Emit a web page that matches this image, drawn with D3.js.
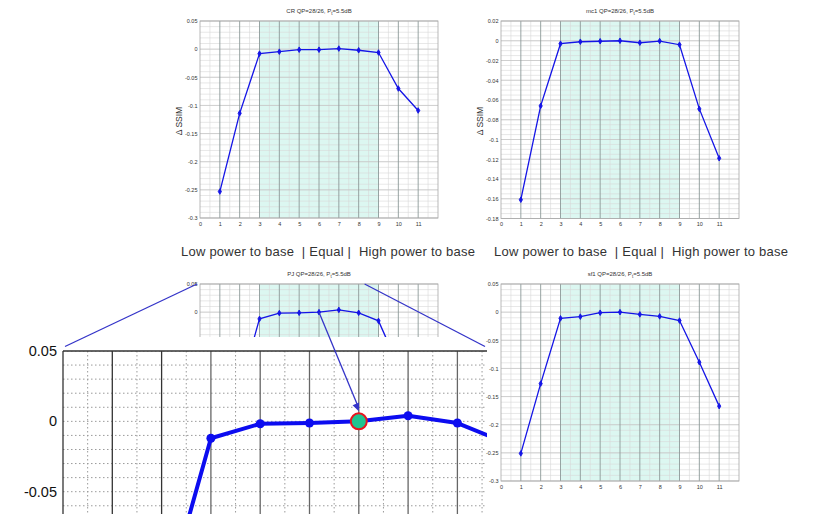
<!DOCTYPE html>
<html>
<head>
<meta charset="utf-8">
<script src="https://cdn.jsdelivr.net/npm/d3@7"></script>
<style>
  html, body { margin: 0; padding: 0; background: #fff; }
  svg { display: block; font-family: "Liberation Sans", Arial, sans-serif; }
</style>
</head>
<body>
<svg id="chart" width="813" height="514"></svg>
<script>
// ---------------- data ----------------
const categories = [1, 2, 3, 4, 5, 6, 7, 8, 9, 10, 11];
const xTickLabels = ["0","1","2","3","4","5","6","7","8","9","10","11"];
const crValues  = [-0.253, -0.114, -0.008, -0.0045, -0.001, -0.001, 0.001, -0.002, -0.006, -0.070, -0.109];
const mc1Values = [-0.161, -0.066, -0.003, -0.001, -0.0005, 0.0, -0.002, -0.0003, -0.004, -0.069, -0.119];
const pjValues  = [-0.255, -0.137, -0.012, -0.0017, -0.0012, 0.0, 0.004, -0.0012, -0.0155, -0.095, -0.16];
const sf1Values = [-0.251, -0.127, -0.011, -0.008, -0.001, 0.0, -0.004, -0.0075, -0.015, -0.089, -0.167];
const ticks005 = [0.05, 0, -0.05, -0.1, -0.15, -0.2, -0.25, -0.3];
const ticks002 = [0.02, 0, -0.02, -0.04, -0.06, -0.08, -0.1, -0.12, -0.14, -0.16, -0.18];
const insetTicks = [0.05, 0, -0.05];
const equalRange = [3, 9];
const highlightCategory = 6;
const regionCaption = "Low power to base  | Equal |  High power to base";
const titles = { cr: "CR", mc1: "mc1", pj: "PJ", sf1: "sf1" };

const svg = d3.select("#chart");
const fmt = v => (Math.abs(v) < 1e-9 ? "0" : String(+v.toFixed(3)));

function drawPanel(opt) {
  const g = svg.append("g");
  const x = d3.scaleLinear().domain([0, 12]).range([opt.left, opt.left + opt.width]);
  const y = d3.scaleLinear().domain(opt.domain).range([opt.top + opt.height, opt.top]);
  const top = opt.top, bottom = opt.top + opt.height;
  g.append("rect").attr("x", x(equalRange[0])).attr("y", top)
    .attr("width", x(equalRange[1]) - x(equalRange[0])).attr("height", opt.height)
    .attr("fill", "#dcf7f1");
  const [d0, d1] = opt.domain;
  const nMinor = Math.round((d1 - d0) / opt.minor);
  for (let i = 0; i <= nMinor; i++) {
    const v = d0 + i * opt.minor;
    g.append("line").attr("x1", opt.left).attr("x2", opt.left + opt.width)
      .attr("y1", y(v)).attr("y2", y(v)).attr("stroke", "#d8d8d8").attr("stroke-width", 0.6);
  }
  for (let k = 0.5; k < 12; k += 1) {
    g.append("line").attr("x1", x(k)).attr("x2", x(k)).attr("y1", top).attr("y2", bottom)
      .attr("stroke", "#d8d8d8").attr("stroke-width", 0.6);
  }
  opt.ticks.forEach(v => {
    g.append("line").attr("x1", opt.left).attr("x2", opt.left + opt.width)
      .attr("y1", y(v)).attr("y2", y(v)).attr("stroke", "#c4c4c4").attr("stroke-width", 0.7);
  });
  for (let k = 1; k <= 11; k++) {
    g.append("line").attr("x1", x(k)).attr("x2", x(k)).attr("y1", top).attr("y2", bottom)
      .attr("stroke", "#8c9a98").attr("stroke-width", 0.9);
  }
  g.append("rect").attr("x", opt.left).attr("y", top).attr("width", opt.width).attr("height", opt.height)
    .attr("fill", "none").attr("stroke", "#a8a8a8").attr("stroke-width", 0.8);
  const yAxis = d3.axisLeft(y).tickValues(opt.ticks).tickFormat(fmt).tickSize(0).tickPadding(2.5);
  const ya = g.append("g").attr("transform", `translate(${opt.left},0)`).call(yAxis);
  ya.select(".domain").remove();
  ya.selectAll("text").attr("font-size", 5.5).attr("fill", "#333");
  const xAxis = d3.axisBottom(x).tickValues(d3.range(0, 12)).tickFormat((d, i) => xTickLabels[i]).tickSize(0).tickPadding(4);
  const xa = g.append("g").attr("transform", `translate(0,${bottom})`).call(xAxis);
  xa.select(".domain").remove();
  xa.selectAll("text").attr("font-size", 5.5).attr("fill", "#333");
  const t = g.append("text").attr("x", opt.left + opt.width / 2).attr("y", top - 8)
    .attr("text-anchor", "middle").attr("font-size", 6).attr("fill", "#333");
  t.append("tspan").text(opt.title + " QP=28/26, P");
  t.append("tspan").attr("font-size", 4.5).attr("dy", 1.5).text("t");
  t.append("tspan").attr("dy", -1.5).text("=5.5dB");
  if (opt.ylabel) {
    g.append("text").attr("transform", `translate(${opt.left - 18},${top + 100}) rotate(-90)`)
      .attr("text-anchor", "middle").attr("font-size", 8.5).attr("fill", "#333").text("\u0394 SSIM");
  }
  const line = d3.line().x((d, i) => x(categories[i])).y(d => y(d));
  g.append("path").datum(opt.values).attr("d", line).attr("fill", "none")
    .attr("stroke", "#1414e6").attr("stroke-width", 1.3);
  g.selectAll(null).data(opt.values).enter().append("path")
    .attr("d", d3.symbol(d3.symbolDiamond, 9))
    .attr("transform", (d, i) => `translate(${x(categories[i])},${y(d)})`)
    .attr("fill", "#1414e6").attr("stroke", "#1414e6").attr("stroke-width", 0.9);
  return { x, y };
}

const cr  = drawPanel({ left: 200, top: 21,  width: 238, height: 197, domain: [-0.3, 0.05],  ticks: ticks005, minor: 0.01,  values: crValues,  title: titles.cr,  ylabel: true });
const mc1 = drawPanel({ left: 501, top: 21,  width: 238, height: 197.5, domain: [-0.18, 0.02], ticks: ticks002, minor: 0.005, values: mc1Values, title: titles.mc1, ylabel: true });
const pj  = drawPanel({ left: 200, top: 284, width: 238, height: 197, domain: [-0.3, 0.05],  ticks: ticks005, minor: 0.01,  values: pjValues,  title: titles.pj });

[[181, 475], [494, 788]].forEach(([a, b]) => {
  svg.append("text").attr("x", a).attr("y", 256).attr("font-size", 13).attr("fill", "#333")
    .attr("textLength", b - a).attr("lengthAdjust", "spacing")
    .style("white-space", "pre").text(regionCaption);
});

// ---------------- magnified inset ----------------
const insetRight = 487;
const inset = svg.append("g");
const clipId = "insetClip";
svg.append("defs").append("clipPath").attr("id", clipId)
  .append("rect").attr("x", 63).attr("y", 351).attr("width", insetRight - 63).attr("height", 163);
inset.append("rect").attr("x", 0).attr("y", 337).attr("width", insetRight).attr("height", 177).attr("fill", "#fff");
const ix = d3.scaleLinear().domain([0, 12]).range([63, 63 + 49.3 * 12]);
const iy = d3.scaleLinear().domain([-0.05, 0.05]).range([491.7, 351]);
const ig = inset.append("g").attr("clip-path", `url(#${clipId})`);
for (let i = 0; i <= 20; i++) {
  const v = 0.05 - i * 0.01;
  ig.append("line").attr("x1", 63).attr("x2", insetRight).attr("y1", iy(v)).attr("y2", iy(v))
    .attr("stroke", "#9a9a9a").attr("stroke-width", 1).attr("stroke-dasharray", "1.5,2.5");
}
for (let k = 0.5; k < 12; k += 1) {
  ig.append("line").attr("x1", ix(k)).attr("x2", ix(k)).attr("y1", 351).attr("y2", 514)
    .attr("stroke", "#9a9a9a").attr("stroke-width", 1).attr("stroke-dasharray", "1.5,2.5");
}
for (let k = 1; k <= 11; k++) {
  ig.append("line").attr("x1", ix(k)).attr("x2", ix(k)).attr("y1", 351).attr("y2", 514)
    .attr("stroke", k <= 2 ? "#333" : "#666").attr("stroke-width", 1.3);
}
const iline = d3.line().x((d, i) => ix(categories[i])).y(d => iy(d));
ig.append("path").datum(pjValues).attr("d", iline).attr("fill", "none")
  .attr("stroke", "#0c0cf0").attr("stroke-width", 4).attr("stroke-linejoin", "round");
ig.selectAll(null).data(pjValues).enter().append("circle")
  .attr("cx", (d, i) => ix(categories[i])).attr("cy", d => iy(d)).attr("r", 4.5)
  .attr("fill", "#0c0cf0");
const hi = categories.indexOf(highlightCategory);
ig.append("circle").attr("cx", ix(highlightCategory)).attr("cy", iy(pjValues[hi])).attr("r", 8)
  .attr("fill", "#1fc490").attr("stroke", "#e8141e").attr("stroke-width", 2);
inset.append("line").attr("x1", 63).attr("x2", 63).attr("y1", 351).attr("y2", 514)
  .attr("stroke", "#333").attr("stroke-width", 1.3);
inset.append("line").attr("x1", 63).attr("x2", insetRight).attr("y1", 351).attr("y2", 351)
  .attr("stroke", "#333").attr("stroke-width", 1.3);
insetTicks.forEach(v => {
  inset.append("text").attr("x", 57).attr("y", iy(v)).attr("dy", "0.35em")
    .attr("text-anchor", "end").attr("font-size", 14.5).attr("fill", "#111").text(fmt(v));
});

// sf1 panel drawn after the inset so its tick labels stay visible
const sf1 = drawPanel({ left: 501, top: 284, width: 238, height: 197, domain: [-0.3, 0.05],  ticks: ticks005, minor: 0.01,  values: sf1Values, title: titles.sf1 });

// connectors and arrow
const conn = svg.append("g").attr("stroke", "#3434c8").attr("stroke-width", 1.3).attr("fill", "none");
conn.append("line").attr("x1", 65).attr("y1", 346.5).attr("x2", pj.x(0) - 3).attr("y2", pj.y(0.05));
conn.append("line").attr("x1", pj.x(8.3)).attr("y1", pj.y(0.05)).attr("x2", 485).attr("y2", 346.5);
const ax0 = pj.x(highlightCategory), ay0 = pj.y(pjValues[hi]);
const ax1 = ix(highlightCategory), ay1 = iy(pjValues[hi]) - 10;
conn.append("line").attr("x1", ax0).attr("y1", ay0).attr("x2", ax1).attr("y2", ay1 - 3);
const ang = Math.atan2(ay1 - ay0, ax1 - ax0);
const hl = 8, hw = 3.5;
const p1 = [ax1 - hl * Math.cos(ang) + hw * Math.sin(ang), ay1 - hl * Math.sin(ang) - hw * Math.cos(ang)];
const p2 = [ax1 - hl * Math.cos(ang) - hw * Math.sin(ang), ay1 - hl * Math.sin(ang) + hw * Math.cos(ang)];
svg.append("path").attr("d", `M${ax1},${ay1}L${p1[0]},${p1[1]}L${p2[0]},${p2[1]}Z`).attr("fill", "#3434c8");
</script>
</body>
</html>
